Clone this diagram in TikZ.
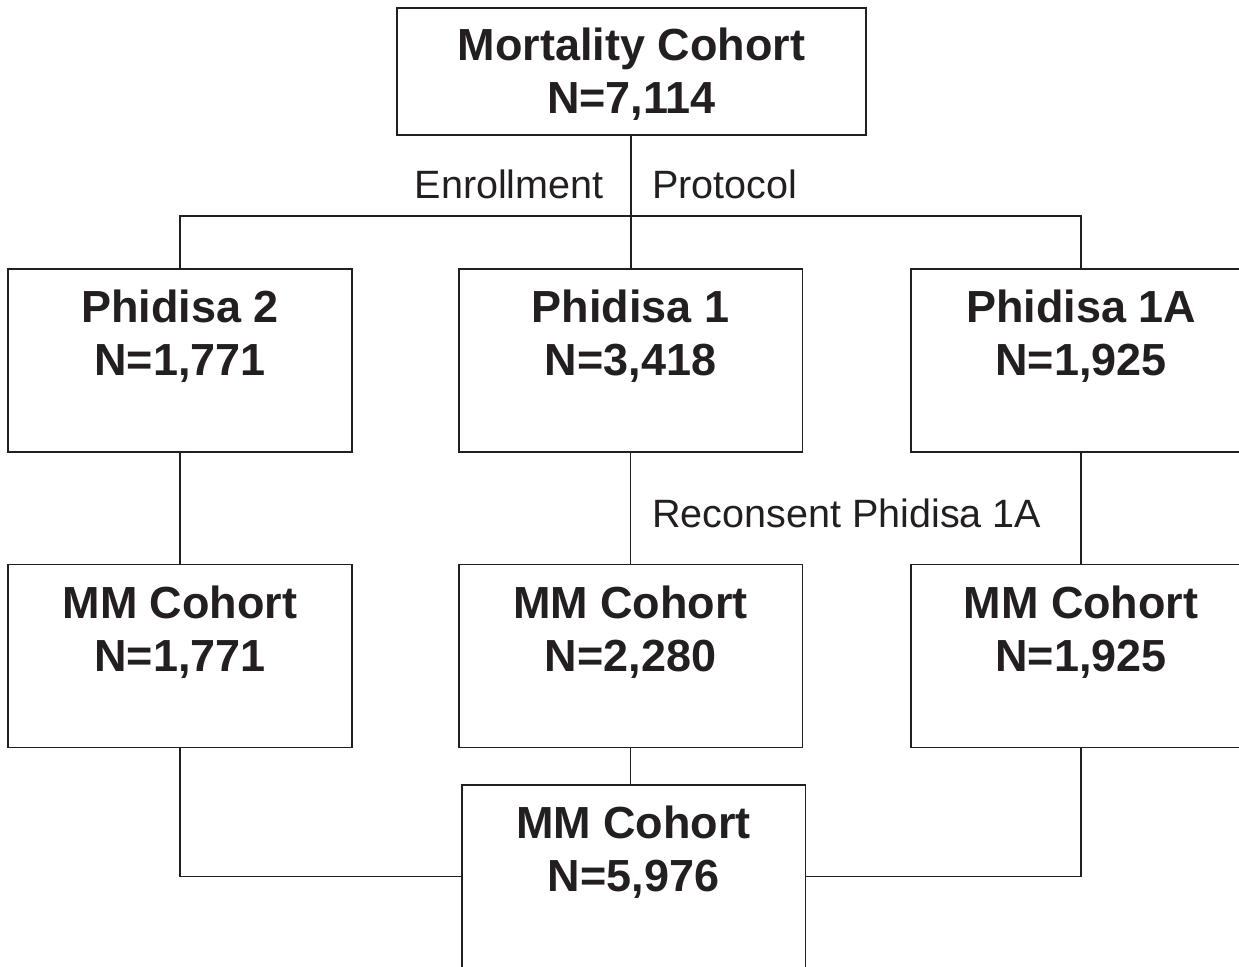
\documentclass[tikz,border=0pt]{standalone}
\usepackage{fontspec}
\setmainfont{Liberation Sans}
\definecolor{ink}{RGB}{35,31,32}
\begin{document}
\begin{tikzpicture}[x=0.02cm,y=-0.02cm,
  box/.style={draw=ink,line width=1.1pt,rectangle,minimum width=6.88cm,minimum height=3.66cm,inner sep=0pt},
  boxtext/.style={text=ink,align=center,inner sep=0pt,font=\fontsize{25.6}{30.2}\selectfont\bfseries},
  lab/.style={text=ink,inner sep=0pt,font=\fontsize{22.5}{26}\selectfont},
  conn/.style={draw=ink,line width=1pt}]
\useasboundingbox (0,0) rectangle (1239,966);
\clip (0,0) rectangle (1239,966);
% boxes
\node[box,minimum width=9.38cm,minimum height=2.54cm] (top) at (631.5,71.5) {};
\node[box] (p2) at (180,360.5) {};
\node[box] (p1) at (630.5,360.5) {};
\node[box] (p1a) at (1082.5,360.5) {};
\node[box] (m2) at (180,656) {};
\node[box] (m1) at (630.5,656) {};
\node[box] (m1a) at (1082.5,656) {};
\node[box] (mm) at (633.5,876.5) {};
% texts
\node[boxtext] (topt) at (631.5,74) {Mortality Cohort\\N=7,114};
\node[boxtext] (p2t) at (180,336) {Phidisa 2\\N=1,771};
\node[boxtext] (p1t) at (630.5,336) {Phidisa 1\\N=3,418};
\node[boxtext] (p1at) at (1081,336) {Phidisa 1A\\N=1,925};
\node[boxtext] (m2t) at (180,632.5) {MM Cohort\\N=1,771};
\node[boxtext] (m1t) at (630.5,632.5) {MM Cohort\\N=2,280};
\node[boxtext] (m1at) at (1081,632.5) {MM Cohort\\N=1,925};
\node[boxtext] (mmt) at (633.5,852.5) {MM Cohort\\N=5,976};
% labels
\node[lab,anchor=east] (enr) at (604,184) {Enrollment};
\node[lab,anchor=west] (prot) at (652,184) {Protocol};
\node[lab,anchor=west] (rec) at (652,513) {Reconsent Phidisa 1A};
% connectors
\coordinate (bar) at (631,216);
\coordinate (rc) at (1081,216);
\draw[conn] (top.south -| bar) -- (p1.north -| bar);
\draw[conn] (p2.north) -- (p2.north |- bar) -- (rc) -- (rc |- p1a.north);
\draw[conn] (p2.south) -- (m2.north);
\draw[conn] (p1.south) -- (m1.north);
\draw[conn] (rc |- p1a.south) -- (rc |- m1a.north);
\draw[conn] (m1.south) -- (m1.south |- mm.north);
\draw[conn] (m2.south) |- (mm.west);
\draw[conn] (rc |- m1a.south) |- (mm.east);
\end{tikzpicture}
\end{document}
